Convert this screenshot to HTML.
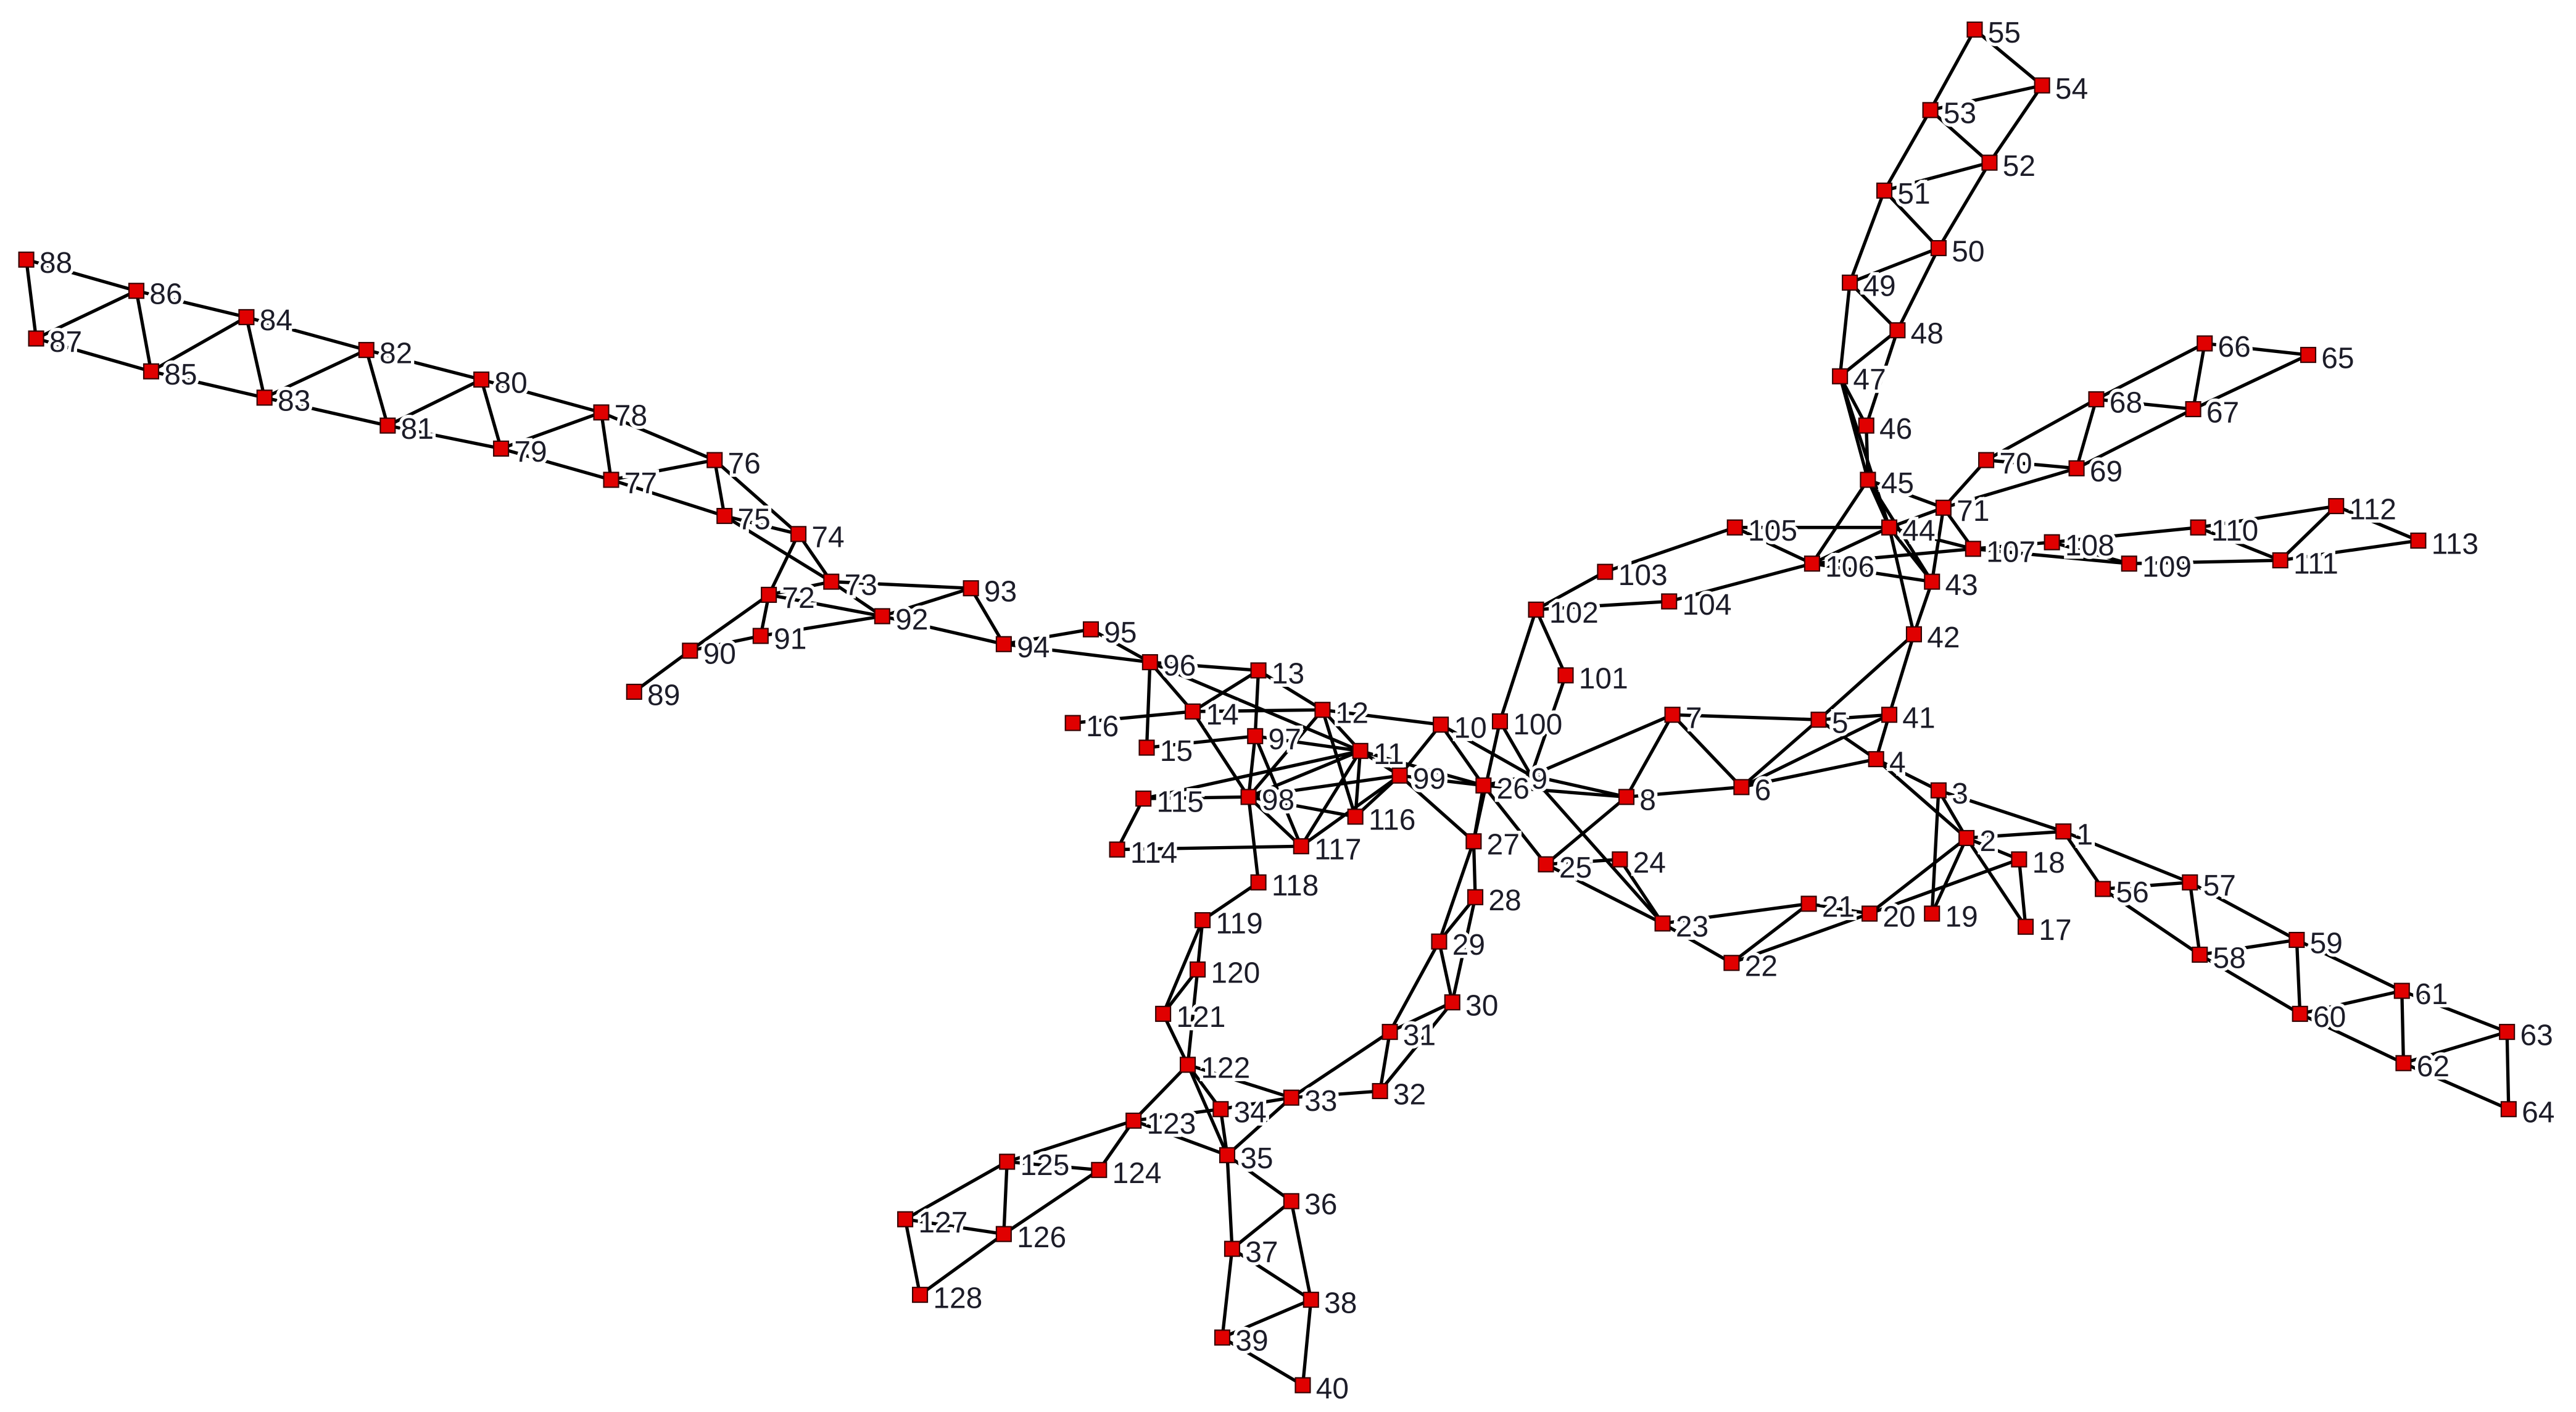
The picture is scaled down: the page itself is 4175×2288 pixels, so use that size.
<!DOCTYPE html>
<html><head><meta charset="utf-8"><style>
html,body{margin:0;padding:0;background:#fff;}
svg{display:block;}
.e line{stroke:#000;stroke-width:2;}
.n rect{fill:#e00000;stroke:#300;stroke-width:0.8;}
.n text{font-family:"Liberation Sans",sans-serif;font-size:18px;fill:#1c1c28;stroke:#fff;stroke-width:4;paint-order:stroke;}
</style></head><body>
<svg width="4175" height="2288" viewBox="0 0 1568 859.3" preserveAspectRatio="none" xmlns="http://www.w3.org/2000/svg">
<g class="e">
<!-- 88-72 ladder -->
<line x1="16" y1="158" x2="22" y2="206"/><line x1="16" y1="158" x2="83" y2="177"/><line x1="22" y1="206" x2="83" y2="177"/><line x1="22" y1="206" x2="92" y2="226"/><line x1="83" y1="177" x2="92" y2="226"/><line x1="83" y1="177" x2="150" y2="193"/><line x1="92" y1="226" x2="150" y2="193"/><line x1="92" y1="226" x2="161" y2="242"/><line x1="150" y1="193" x2="161" y2="242"/><line x1="150" y1="193" x2="223" y2="213"/><line x1="161" y1="242" x2="223" y2="213"/><line x1="161" y1="242" x2="236" y2="259"/><line x1="223" y1="213" x2="236" y2="259"/><line x1="223" y1="213" x2="293" y2="231"/><line x1="236" y1="259" x2="293" y2="231"/><line x1="236" y1="259" x2="305" y2="273"/><line x1="293" y1="231" x2="305" y2="273"/><line x1="293" y1="231" x2="366" y2="251"/><line x1="305" y1="273" x2="366" y2="251"/><line x1="305" y1="273" x2="372" y2="292"/><line x1="366" y1="251" x2="372" y2="292"/><line x1="366" y1="251" x2="435" y2="280"/><line x1="372" y1="292" x2="435" y2="280"/><line x1="372" y1="292" x2="441" y2="314"/><line x1="435" y1="280" x2="441" y2="314"/><line x1="435" y1="280" x2="486" y2="325"/><line x1="441" y1="314" x2="486" y2="325"/><line x1="441" y1="314" x2="506" y2="354"/><line x1="486" y1="325" x2="506" y2="354"/><line x1="486" y1="325" x2="468" y2="362"/><line x1="506" y1="354" x2="468" y2="362"/><line x1="468" y1="362" x2="463" y2="387"/><line x1="468" y1="362" x2="420" y2="396"/><line x1="463" y1="387" x2="420" y2="396"/><line x1="420" y1="396" x2="386" y2="421"/><line x1="506" y1="354" x2="537" y2="375"/><line x1="463" y1="387" x2="537" y2="375"/><line x1="468" y1="362" x2="537" y2="375"/><line x1="506" y1="354" x2="591" y2="358"/><line x1="537" y1="375" x2="591" y2="358"/><line x1="537" y1="375" x2="611" y2="392"/><line x1="591" y1="358" x2="611" y2="392"/><line x1="611" y1="392" x2="664" y2="383"/><line x1="611" y1="392" x2="700" y2="403"/><line x1="664" y1="383" x2="700" y2="403"/>
<!-- center left -->
<line x1="700" y1="403" x2="766" y2="408"/><line x1="700" y1="403" x2="726" y2="433"/><line x1="700" y1="403" x2="698" y2="455"/><line x1="700" y1="403" x2="828" y2="457"/><line x1="653" y1="440" x2="726" y2="433"/><line x1="698" y1="455" x2="764" y2="448"/><line x1="726" y1="433" x2="805" y2="432"/><line x1="766" y1="408" x2="805" y2="432"/><line x1="766" y1="408" x2="764" y2="448"/><line x1="766" y1="408" x2="726" y2="433"/><line x1="726" y1="433" x2="760" y2="485"/><line x1="764" y1="448" x2="828" y2="457"/><line x1="764" y1="448" x2="760" y2="485"/><line x1="764" y1="448" x2="792" y2="515"/><line x1="805" y1="432" x2="828" y2="457"/><line x1="805" y1="432" x2="877" y2="441"/><line x1="805" y1="432" x2="825" y2="497"/><line x1="805" y1="432" x2="760" y2="485"/><line x1="760" y1="485" x2="828" y2="457"/><line x1="760" y1="485" x2="852" y2="472"/><line x1="696" y1="486" x2="828" y2="457"/><line x1="696" y1="486" x2="760" y2="485"/><line x1="696" y1="486" x2="680" y2="517"/><line x1="680" y1="517" x2="792" y2="515"/><line x1="760" y1="485" x2="792" y2="515"/><line x1="760" y1="485" x2="766" y2="537"/><line x1="760" y1="485" x2="825" y2="497"/><line x1="792" y1="515" x2="852" y2="472"/><line x1="825" y1="497" x2="852" y2="472"/><line x1="825" y1="497" x2="828" y2="457"/><line x1="792" y1="515" x2="828" y2="457"/><line x1="828" y1="457" x2="852" y2="472"/><line x1="828" y1="457" x2="903" y2="478"/><line x1="852" y1="472" x2="903" y2="478"/><line x1="877" y1="441" x2="903" y2="478"/><line x1="877" y1="441" x2="932" y2="472"/><line x1="877" y1="441" x2="852" y2="472"/><line x1="913" y1="439" x2="932" y2="472"/><line x1="913" y1="439" x2="935" y2="371"/><line x1="913" y1="439" x2="897" y2="512"/><line x1="903" y1="478" x2="897" y2="512"/><line x1="903" y1="478" x2="932" y2="472"/><line x1="852" y1="472" x2="897" y2="512"/><line x1="932" y1="472" x2="990" y2="485"/><line x1="903" y1="478" x2="990" y2="485"/><line x1="932" y1="472" x2="1018" y2="435"/><line x1="932" y1="472" x2="1012" y2="562"/><line x1="903" y1="478" x2="941" y2="526"/><line x1="990" y1="485" x2="941" y2="526"/>
<!-- down 27-33 -->
<line x1="897" y1="512" x2="898" y2="546"/><line x1="897" y1="512" x2="876" y2="573"/><line x1="898" y1="546" x2="876" y2="573"/><line x1="898" y1="546" x2="884" y2="610"/><line x1="876" y1="573" x2="884" y2="610"/><line x1="876" y1="573" x2="846" y2="628"/><line x1="884" y1="610" x2="846" y2="628"/><line x1="884" y1="610" x2="840" y2="664"/><line x1="846" y1="628" x2="840" y2="664"/><line x1="846" y1="628" x2="786" y2="668"/><line x1="840" y1="664" x2="786" y2="668"/><line x1="786" y1="668" x2="743" y2="675"/><line x1="786" y1="668" x2="747" y2="703"/><line x1="743" y1="675" x2="747" y2="703"/><line x1="723" y1="648" x2="743" y2="675"/><line x1="723" y1="648" x2="747" y2="703"/><line x1="723" y1="648" x2="786" y2="668"/><line x1="690" y1="682" x2="747" y2="703"/><line x1="690" y1="682" x2="723" y2="648"/><line x1="690" y1="682" x2="743" y2="675"/>
<line x1="747" y1="703" x2="786" y2="731"/><line x1="747" y1="703" x2="750" y2="760"/><line x1="786" y1="731" x2="750" y2="760"/><line x1="786" y1="731" x2="798" y2="791"/><line x1="750" y1="760" x2="798" y2="791"/><line x1="750" y1="760" x2="744" y2="814"/><line x1="798" y1="791" x2="744" y2="814"/><line x1="798" y1="791" x2="793" y2="843"/><line x1="744" y1="814" x2="793" y2="843"/>
<line x1="766" y1="537" x2="732" y2="560"/><line x1="732" y1="560" x2="729" y2="590"/><line x1="732" y1="560" x2="708" y2="617"/><line x1="729" y1="590" x2="708" y2="617"/><line x1="729" y1="590" x2="723" y2="648"/><line x1="708" y1="617" x2="723" y2="648"/>
<line x1="690" y1="682" x2="669" y2="712"/><line x1="690" y1="682" x2="613" y2="707"/><line x1="613" y1="707" x2="669" y2="712"/><line x1="669" y1="712" x2="611" y2="751"/><line x1="613" y1="707" x2="611" y2="751"/><line x1="613" y1="707" x2="551" y2="742"/><line x1="611" y1="751" x2="551" y2="742"/><line x1="611" y1="751" x2="560" y2="788"/><line x1="551" y1="742" x2="560" y2="788"/>
<!-- right middle -->
<line x1="941" y1="526" x2="986" y2="523"/><line x1="986" y1="523" x2="1012" y2="562"/><line x1="941" y1="526" x2="1012" y2="562"/><line x1="1012" y1="562" x2="1054" y2="586"/><line x1="1012" y1="562" x2="1101" y2="550"/><line x1="1101" y1="550" x2="1054" y2="586"/><line x1="1054" y1="586" x2="1138" y2="556"/><line x1="1101" y1="550" x2="1138" y2="556"/><line x1="1138" y1="556" x2="1197" y2="510"/><line x1="1138" y1="556" x2="1229" y2="523"/><line x1="1176" y1="556" x2="1197" y2="510"/><line x1="1176" y1="556" x2="1180" y2="481"/><line x1="1197" y1="510" x2="1180" y2="481"/><line x1="1197" y1="510" x2="1229" y2="523"/><line x1="1197" y1="510" x2="1233" y2="564"/><line x1="1229" y1="523" x2="1233" y2="564"/><line x1="1180" y1="481" x2="1256" y2="506"/><line x1="1197" y1="510" x2="1256" y2="506"/><line x1="1180" y1="481" x2="1142" y2="462"/><line x1="1197" y1="510" x2="1142" y2="462"/>
<line x1="1142" y1="462" x2="1150" y2="435"/><line x1="1142" y1="462" x2="1107" y2="438"/><line x1="1142" y1="462" x2="1060" y2="479"/><line x1="1107" y1="438" x2="1060" y2="479"/><line x1="1107" y1="438" x2="1150" y2="435"/><line x1="1150" y1="435" x2="1060" y2="479"/><line x1="1107" y1="438" x2="1018" y2="435"/><line x1="1018" y1="435" x2="1060" y2="479"/><line x1="1018" y1="435" x2="990" y2="485"/><line x1="990" y1="485" x2="1060" y2="479"/><line x1="1150" y1="435" x2="1165" y2="386"/><line x1="1107" y1="438" x2="1165" y2="386"/><line x1="1165" y1="386" x2="1176" y2="354"/><line x1="1165" y1="386" x2="1150" y2="321"/><line x1="1176" y1="354" x2="1150" y2="321"/><line x1="1176" y1="354" x2="1137" y2="292"/><line x1="1176" y1="354" x2="1103" y2="343"/><line x1="1150" y1="321" x2="1137" y2="292"/><line x1="1150" y1="321" x2="1056" y2="321"/><line x1="1150" y1="321" x2="1103" y2="343"/><line x1="1137" y1="292" x2="1103" y2="343"/><line x1="1150" y1="321" x2="1201" y2="334"/><line x1="1103" y1="343" x2="1201" y2="334"/><line x1="1137" y1="292" x2="1183" y2="309"/><line x1="1150" y1="321" x2="1183" y2="309"/><line x1="1183" y1="309" x2="1201" y2="334"/><line x1="1176" y1="354" x2="1183" y2="309"/>
<line x1="953" y1="411" x2="935" y2="371"/><line x1="953" y1="411" x2="932" y2="472"/><line x1="935" y1="371" x2="977" y2="348"/><line x1="935" y1="371" x2="1016" y2="366"/><line x1="977" y1="348" x2="1056" y2="321"/><line x1="1016" y1="366" x2="1103" y2="343"/><line x1="1056" y1="321" x2="1103" y2="343"/>
<!-- 45-55 chain -->
<line x1="1137" y1="292" x2="1136" y2="259"/><line x1="1136" y1="259" x2="1120" y2="229"/><line x1="1137" y1="292" x2="1120" y2="229"/><line x1="1136" y1="259" x2="1155" y2="201"/><line x1="1150" y1="321" x2="1120" y2="229"/><line x1="1120" y1="229" x2="1155" y2="201"/><line x1="1120" y1="229" x2="1126" y2="172"/><line x1="1155" y1="201" x2="1126" y2="172"/><line x1="1155" y1="201" x2="1180" y2="151"/><line x1="1126" y1="172" x2="1180" y2="151"/><line x1="1126" y1="172" x2="1147" y2="116"/><line x1="1180" y1="151" x2="1147" y2="116"/><line x1="1180" y1="151" x2="1211" y2="99"/><line x1="1147" y1="116" x2="1211" y2="99"/><line x1="1147" y1="116" x2="1175" y2="67"/><line x1="1211" y1="99" x2="1175" y2="67"/><line x1="1211" y1="99" x2="1243" y2="52"/><line x1="1175" y1="67" x2="1243" y2="52"/><line x1="1175" y1="67" x2="1202" y2="18"/><line x1="1243" y1="52" x2="1202" y2="18"/>
<!-- 65 chain -->
<line x1="1183" y1="309" x2="1209" y2="280"/><line x1="1183" y1="309" x2="1264" y2="285"/><line x1="1209" y1="280" x2="1264" y2="285"/><line x1="1209" y1="280" x2="1276" y2="243"/><line x1="1264" y1="285" x2="1276" y2="243"/><line x1="1264" y1="285" x2="1335" y2="249"/><line x1="1276" y1="243" x2="1335" y2="249"/><line x1="1276" y1="243" x2="1342" y2="209"/><line x1="1335" y1="249" x2="1342" y2="209"/><line x1="1335" y1="249" x2="1405" y2="216"/><line x1="1342" y1="209" x2="1405" y2="216"/>
<!-- 113 chain -->
<line x1="1201" y1="334" x2="1249" y2="330"/><line x1="1201" y1="334" x2="1296" y2="343"/><line x1="1249" y1="330" x2="1296" y2="343"/><line x1="1249" y1="330" x2="1338" y2="321"/><line x1="1296" y1="343" x2="1388" y2="341"/><line x1="1338" y1="321" x2="1388" y2="341"/><line x1="1338" y1="321" x2="1422" y2="308"/><line x1="1388" y1="341" x2="1422" y2="308"/><line x1="1388" y1="341" x2="1472" y2="329"/><line x1="1422" y1="308" x2="1472" y2="329"/>
<!-- 56-64 chain -->
<line x1="1256" y1="506" x2="1280" y2="541"/><line x1="1256" y1="506" x2="1333" y2="537"/><line x1="1280" y1="541" x2="1333" y2="537"/><line x1="1280" y1="541" x2="1339" y2="581"/><line x1="1333" y1="537" x2="1339" y2="581"/><line x1="1333" y1="537" x2="1398" y2="572"/><line x1="1339" y1="581" x2="1398" y2="572"/><line x1="1339" y1="581" x2="1400" y2="617"/><line x1="1398" y1="572" x2="1400" y2="617"/><line x1="1398" y1="572" x2="1462" y2="603"/><line x1="1400" y1="617" x2="1462" y2="603"/><line x1="1400" y1="617" x2="1463" y2="647"/><line x1="1462" y1="603" x2="1463" y2="647"/><line x1="1462" y1="603" x2="1526" y2="628"/><line x1="1463" y1="647" x2="1526" y2="628"/><line x1="1463" y1="647" x2="1527" y2="675"/><line x1="1526" y1="628" x2="1527" y2="675"/>
</g>
<g class="n">
<rect x="11.5" y="153.5" width="9" height="9"/><text x="24" y="166">88</text>
<rect x="17.5" y="201.5" width="9" height="9"/><text x="30" y="214">87</text>
<rect x="78.5" y="172.5" width="9" height="9"/><text x="91" y="185">86</text>
<rect x="87.5" y="221.5" width="9" height="9"/><text x="100" y="234">85</text>
<rect x="145.5" y="188.5" width="9" height="9"/><text x="158" y="201">84</text>
<rect x="156.5" y="237.5" width="9" height="9"/><text x="169" y="250">83</text>
<rect x="218.5" y="208.5" width="9" height="9"/><text x="231" y="221">82</text>
<rect x="231.5" y="254.5" width="9" height="9"/><text x="244" y="267">81</text>
<rect x="288.5" y="226.5" width="9" height="9"/><text x="301" y="239">80</text>
<rect x="300.5" y="268.5" width="9" height="9"/><text x="313" y="281">79</text>
<rect x="361.5" y="246.5" width="9" height="9"/><text x="374" y="259">78</text>
<rect x="367.5" y="287.5" width="9" height="9"/><text x="380" y="300">77</text>
<rect x="430.5" y="275.5" width="9" height="9"/><text x="443" y="288">76</text>
<rect x="436.5" y="309.5" width="9" height="9"/><text x="449" y="322">75</text>
<rect x="481.5" y="320.5" width="9" height="9"/><text x="494" y="333">74</text>
<rect x="501.5" y="349.5" width="9" height="9"/><text x="514" y="362">73</text>
<rect x="463.5" y="357.5" width="9" height="9"/><text x="476" y="370">72</text>
<rect x="458.5" y="382.5" width="9" height="9"/><text x="471" y="395">91</text>
<rect x="415.5" y="391.5" width="9" height="9"/><text x="428" y="404">90</text>
<rect x="381.5" y="416.5" width="9" height="9"/><text x="394" y="429">89</text>
<rect x="532.5" y="370.5" width="9" height="9"/><text x="545" y="383">92</text>
<rect x="586.5" y="353.5" width="9" height="9"/><text x="599" y="366">93</text>
<rect x="606.5" y="387.5" width="9" height="9"/><text x="619" y="400">94</text>
<rect x="659.5" y="378.5" width="9" height="9"/><text x="672" y="391">95</text>
<rect x="695.5" y="398.5" width="9" height="9"/><text x="708" y="411">96</text>
<rect x="761.5" y="403.5" width="9" height="9"/><text x="774" y="416">13</text>
<rect x="721.5" y="428.5" width="9" height="9"/><text x="734" y="441">14</text>
<rect x="648.5" y="435.5" width="9" height="9"/><text x="661" y="448">16</text>
<rect x="693.5" y="450.5" width="9" height="9"/><text x="706" y="463">15</text>
<rect x="800.5" y="427.5" width="9" height="9"/><text x="813" y="440">12</text>
<rect x="759.5" y="443.5" width="9" height="9"/><text x="772" y="456">97</text>
<rect x="823.5" y="452.5" width="9" height="9"/><text x="836" y="465">11</text>
<rect x="847.5" y="467.5" width="9" height="9"/><text x="860" y="480">99</text>
<rect x="755.5" y="480.5" width="9" height="9"/><text x="768" y="493">98</text>
<rect x="691.5" y="481.5" width="9" height="9"/><text x="704" y="494">115</text>
<rect x="675.5" y="512.5" width="9" height="9"/><text x="688" y="525">114</text>
<rect x="820.5" y="492.5" width="9" height="9"/><text x="833" y="505">116</text>
<rect x="787.5" y="510.5" width="9" height="9"/><text x="800" y="523">117</text>
<rect x="761.5" y="532.5" width="9" height="9"/><text x="774" y="545">118</text>
<rect x="872.5" y="436.5" width="9" height="9"/><text x="885" y="449">10</text>
<rect x="908.5" y="434.5" width="9" height="9"/><text x="921" y="447">100</text>
<text x="932" y="480">9</text>
<rect x="898.5" y="473.5" width="9" height="9"/><text x="911" y="486">26</text>
<rect x="892.5" y="507.5" width="9" height="9"/><text x="905" y="520">27</text>
<rect x="893.5" y="541.5" width="9" height="9"/><text x="906" y="554">28</text>
<rect x="871.5" y="568.5" width="9" height="9"/><text x="884" y="581">29</text>
<rect x="879.5" y="605.5" width="9" height="9"/><text x="892" y="618">30</text>
<rect x="841.5" y="623.5" width="9" height="9"/><text x="854" y="636">31</text>
<rect x="835.5" y="659.5" width="9" height="9"/><text x="848" y="672">32</text>
<rect x="781.5" y="663.5" width="9" height="9"/><text x="794" y="676">33</text>
<rect x="738.5" y="670.5" width="9" height="9"/><text x="751" y="683">34</text>
<rect x="742.5" y="698.5" width="9" height="9"/><text x="755" y="711">35</text>
<rect x="781.5" y="726.5" width="9" height="9"/><text x="794" y="739">36</text>
<rect x="745.5" y="755.5" width="9" height="9"/><text x="758" y="768">37</text>
<rect x="793.5" y="786.5" width="9" height="9"/><text x="806" y="799">38</text>
<rect x="739.5" y="809.5" width="9" height="9"/><text x="752" y="822">39</text>
<rect x="788.5" y="838.5" width="9" height="9"/><text x="801" y="851">40</text>
<rect x="727.5" y="555.5" width="9" height="9"/><text x="740" y="568">119</text>
<rect x="724.5" y="585.5" width="9" height="9"/><text x="737" y="598">120</text>
<rect x="703.5" y="612.5" width="9" height="9"/><text x="716" y="625">121</text>
<rect x="718.5" y="643.5" width="9" height="9"/><text x="731" y="656">122</text>
<rect x="685.5" y="677.5" width="9" height="9"/><text x="698" y="690">123</text>
<rect x="664.5" y="707.5" width="9" height="9"/><text x="677" y="720">124</text>
<rect x="608.5" y="702.5" width="9" height="9"/><text x="621" y="715">125</text>
<rect x="606.5" y="746.5" width="9" height="9"/><text x="619" y="759">126</text>
<rect x="546.5" y="737.5" width="9" height="9"/><text x="559" y="750">127</text>
<rect x="555.5" y="783.5" width="9" height="9"/><text x="568" y="796">128</text>
<rect x="936.5" y="521.5" width="9" height="9"/><text x="949" y="534">25</text>
<rect x="981.5" y="518.5" width="9" height="9"/><text x="994" y="531">24</text>
<rect x="1007.5" y="557.5" width="9" height="9"/><text x="1020" y="570">23</text>
<rect x="1049.5" y="581.5" width="9" height="9"/><text x="1062" y="594">22</text>
<rect x="1096.5" y="545.5" width="9" height="9"/><text x="1109" y="558">21</text>
<rect x="1133.5" y="551.5" width="9" height="9"/><text x="1146" y="564">20</text>
<rect x="1171.5" y="551.5" width="9" height="9"/><text x="1184" y="564">19</text>
<rect x="1224.5" y="518.5" width="9" height="9"/><text x="1237" y="531">18</text>
<rect x="1228.5" y="559.5" width="9" height="9"/><text x="1241" y="572">17</text>
<rect x="1192.5" y="505.5" width="9" height="9"/><text x="1205" y="518">2</text>
<rect x="1175.5" y="476.5" width="9" height="9"/><text x="1188" y="489">3</text>
<rect x="1251.5" y="501.5" width="9" height="9"/><text x="1264" y="514">1</text>
<rect x="1137.5" y="457.5" width="9" height="9"/><text x="1150" y="470">4</text>
<rect x="1102.5" y="433.5" width="9" height="9"/><text x="1115" y="446">5</text>
<rect x="1145.5" y="430.5" width="9" height="9"/><text x="1158" y="443">41</text>
<rect x="1055.5" y="474.5" width="9" height="9"/><text x="1068" y="487">6</text>
<rect x="1013.5" y="430.5" width="9" height="9"/><text x="1026" y="443">7</text>
<rect x="985.5" y="480.5" width="9" height="9"/><text x="998" y="493">8</text>
<rect x="948.5" y="406.5" width="9" height="9"/><text x="961" y="419">101</text>
<rect x="930.5" y="366.5" width="9" height="9"/><text x="943" y="379">102</text>
<rect x="972.5" y="343.5" width="9" height="9"/><text x="985" y="356">103</text>
<rect x="1011.5" y="361.5" width="9" height="9"/><text x="1024" y="374">104</text>
<rect x="1051.5" y="316.5" width="9" height="9"/><text x="1064" y="329">105</text>
<rect x="1098.5" y="338.5" width="9" height="9"/><text x="1111" y="351">106</text>
<rect x="1160.5" y="381.5" width="9" height="9"/><text x="1173" y="394">42</text>
<rect x="1171.5" y="349.5" width="9" height="9"/><text x="1184" y="362">43</text>
<rect x="1145.5" y="316.5" width="9" height="9"/><text x="1158" y="329">44</text>
<rect x="1132.5" y="287.5" width="9" height="9"/><text x="1145" y="300">45</text>
<rect x="1131.5" y="254.5" width="9" height="9"/><text x="1144" y="267">46</text>
<rect x="1115.5" y="224.5" width="9" height="9"/><text x="1128" y="237">47</text>
<rect x="1150.5" y="196.5" width="9" height="9"/><text x="1163" y="209">48</text>
<rect x="1121.5" y="167.5" width="9" height="9"/><text x="1134" y="180">49</text>
<rect x="1175.5" y="146.5" width="9" height="9"/><text x="1188" y="159">50</text>
<rect x="1142.5" y="111.5" width="9" height="9"/><text x="1155" y="124">51</text>
<rect x="1206.5" y="94.5" width="9" height="9"/><text x="1219" y="107">52</text>
<rect x="1170.5" y="62.5" width="9" height="9"/><text x="1183" y="75">53</text>
<rect x="1238.5" y="47.5" width="9" height="9"/><text x="1251" y="60">54</text>
<rect x="1197.5" y="13.5" width="9" height="9"/><text x="1210" y="26">55</text>
<rect x="1178.5" y="304.5" width="9" height="9"/><text x="1191" y="317">71</text>
<rect x="1204.5" y="275.5" width="9" height="9"/><text x="1217" y="288">70</text>
<rect x="1259.5" y="280.5" width="9" height="9"/><text x="1272" y="293">69</text>
<rect x="1271.5" y="238.5" width="9" height="9"/><text x="1284" y="251">68</text>
<rect x="1330.5" y="244.5" width="9" height="9"/><text x="1343" y="257">67</text>
<rect x="1337.5" y="204.5" width="9" height="9"/><text x="1350" y="217">66</text>
<rect x="1400.5" y="211.5" width="9" height="9"/><text x="1413" y="224">65</text>
<rect x="1196.5" y="329.5" width="9" height="9"/><text x="1209" y="342">107</text>
<rect x="1244.5" y="325.5" width="9" height="9"/><text x="1257" y="338">108</text>
<rect x="1291.5" y="338.5" width="9" height="9"/><text x="1304" y="351">109</text>
<rect x="1333.5" y="316.5" width="9" height="9"/><text x="1346" y="329">110</text>
<rect x="1383.5" y="336.5" width="9" height="9"/><text x="1396" y="349">111</text>
<rect x="1417.5" y="303.5" width="9" height="9"/><text x="1430" y="316">112</text>
<rect x="1467.5" y="324.5" width="9" height="9"/><text x="1480" y="337">113</text>
<rect x="1275.5" y="536.5" width="9" height="9"/><text x="1288" y="549">56</text>
<rect x="1328.5" y="532.5" width="9" height="9"/><text x="1341" y="545">57</text>
<rect x="1334.5" y="576.5" width="9" height="9"/><text x="1347" y="589">58</text>
<rect x="1393.5" y="567.5" width="9" height="9"/><text x="1406" y="580">59</text>
<rect x="1395.5" y="612.5" width="9" height="9"/><text x="1408" y="625">60</text>
<rect x="1457.5" y="598.5" width="9" height="9"/><text x="1470" y="611">61</text>
<rect x="1458.5" y="642.5" width="9" height="9"/><text x="1471" y="655">62</text>
<rect x="1521.5" y="623.5" width="9" height="9"/><text x="1534" y="636">63</text>
<rect x="1522.5" y="670.5" width="9" height="9"/><text x="1535" y="683">64</text>
</g>
</svg>
</body></html>
